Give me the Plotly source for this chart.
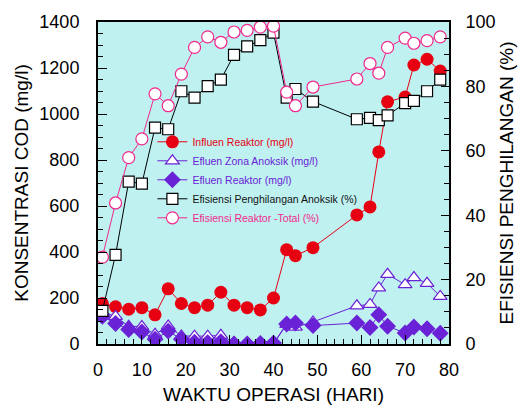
import plotly.graph_objects as go

days = [1, 4, 7, 10, 13, 16, 19, 22, 25, 28, 31, 34, 37, 40, 43, 45, 49, 59, 62, 64, 66, 70, 72, 75, 78]
influen = [176, 162, 151, 158, 127, 240, 176, 158, 169, 225, 169, 158, 148, 200,
           410, 384, 419, 561, 596, 835, 1053, 1074, 1213, 1238, 1187]
efluen_anoksik = [140, 120, 77, 76, 42, 78, 35, 34, 34, 38, 5, 2, 0, 0,
                  85, 73, 96, 166, 172, 244, 303, 258, 289, 264, 207]
efluen_reaktor = [120, 89, 63, 52, 21, 56, 21, 8, 6, 10, 0, 0, 2, 4,
                  87, 91, 80, 91, 72, 127, 77, 48, 74, 66, 47]
eff_anoksik = [10.3, 27.7, 50.4, 49.8, 67.2, 66.7, 78.5, 76.5, 80.1, 82.1, 89.8, 92.4, 94.4, 96.7,
               76.5, 79.2, 75.3, 69.8, 70.2, 69.5, 71.0, 74.8, 75.5, 78.5, 82.1]
eff_total = [27.0, 43.8, 57.9, 63.7, 77.7, 74.0, 83.8, 92.1, 95.4, 93.7, 96.9, 97.4, 98.4, 98.7,
             78.2, 74.0, 79.8, 82.3, 87.1, 84.1, 92.1, 95.0, 93.4, 94.2, 95.4]

RED = "#e60012"
PURPLE = "#6a22d6"
PINK = "#f0288c"
FONT = "Liberation Sans, Arial, sans-serif"

fig = go.Figure()
fig.add_trace(go.Scatter(
    x=days, y=influen, mode="lines+markers",
    name=f"<span style='color:{RED}'>Influen Reaktor (mg/l)</span>",
    line=dict(color=RED, width=1),
    marker=dict(symbol="circle", size=13, color=RED, line=dict(width=0)),
))
fig.add_trace(go.Scatter(
    x=days, y=efluen_anoksik, mode="lines+markers",
    name=f"<span style='color:{PURPLE}'>Efluen Zona Anoksik (mg/l)</span>",
    line=dict(color=PURPLE, width=1),
    marker=dict(symbol="triangle-up", size=12, color="white", line=dict(color=PURPLE, width=1.2)),
))
fig.add_trace(go.Scatter(
    x=days, y=efluen_reaktor, mode="lines+markers",
    name=f"<span style='color:{PURPLE}'>Efluen Reaktor (mg/l)</span>",
    line=dict(color=PURPLE, width=1),
    marker=dict(symbol="diamond", size=13, color=PURPLE, line=dict(width=0)),
))
fig.add_trace(go.Scatter(
    x=days, y=eff_anoksik, mode="lines+markers", yaxis="y2",
    name="<span style='color:#111111'>Efisiensi Penghilangan Anoksik (%)</span>",
    line=dict(color="black", width=1),
    marker=dict(symbol="square", size=11, color="white", line=dict(color="black", width=1.2)),
))
fig.add_trace(go.Scatter(
    x=days, y=eff_total, mode="lines+markers", yaxis="y2",
    name=f"<span style='color:{PINK}'>Efisiensi Reaktor -Total (%)</span>",
    line=dict(color=PINK, width=1),
    marker=dict(symbol="circle", size=12, color="white", line=dict(color=PINK, width=1.2)),
))

axis_common = dict(
    showgrid=False, zeroline=False, showline=True, linecolor="black", linewidth=2,
    ticks="inside", tickcolor="black", tickwidth=1,
    tickfont=dict(family=FONT, size=18, color="black"),
)

fig.update_layout(
    width=526, height=414,
    margin=dict(l=98, r=73, t=14, b=69),
    paper_bgcolor="white", plot_bgcolor="#bff1f1",
    font=dict(family=FONT, color="black"),
    showlegend=True,
    legend=dict(
        x=0.155, y=0.673, xanchor="left", yanchor="top",
        bgcolor="rgba(0,0,0,0)", borderwidth=0,
        font=dict(family=FONT, size=10.5),
        tracegroupgap=0,
    ),
    xaxis=dict(
        range=[0, 80], tickvals=list(range(0, 81, 10)), ticklen=9,
        minor=dict(dtick=2, ticklen=5, ticks="inside", tickcolor="black"),
        mirror=True, ticklabelstandoff=8,
        title=dict(text="WAKTU OPERASI (HARI)", font=dict(family=FONT, size=19), standoff=9),
        **axis_common,
    ),
    yaxis=dict(
        range=[0, 1400], dtick=200, ticklen=9,
        minor=dict(dtick=50, ticklen=5, ticks="inside", tickcolor="black"),
        mirror=True, ticklabelstandoff=13,
        title=dict(text="KONSENTRASI COD (mg/l)", font=dict(family=FONT, size=19), standoff=6),
        **axis_common,
    ),
    yaxis2=dict(
        range=[0, 100], dtick=20, ticklen=8, overlaying="y", side="right",
        minor=dict(dtick=5, ticklen=5, ticks="inside", tickcolor="black"),
        ticklabelstandoff=11,
        title=dict(text="EFISIENSI PENGHILANGAN (%)", font=dict(family=FONT, size=19), standoff=5),
        **axis_common,
    ),
)

fig.write_html("out.html")
